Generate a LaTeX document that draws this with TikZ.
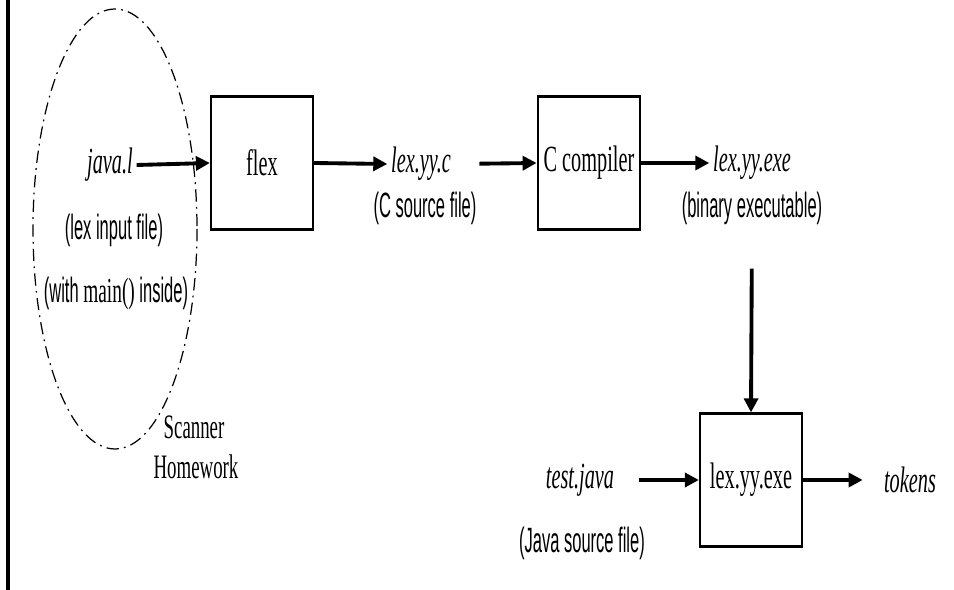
\documentclass[tikz,border=0pt]{standalone}
\usepackage{fontspec}
\usepackage{tikz}
\usetikzlibrary{arrows.meta,shapes.geometric}
\newfontfamily\boxfont[FakeStretch=0.55]{Liberation Serif}
\newfontfamily\notefont[FakeStretch=0.47]{Liberation Sans}
\tikzset{
	stage/.style={draw, line width=1.3pt, minimum width=2.04cm, minimum height=2.66cm, font=\boxfont\fontsize{21}{23}\selectfont},
	fname/.style={inner sep=2pt, font=\boxfont\itshape\fontsize{21}{23}\selectfont},
	fnote/.style={inner sep=1pt, font=\notefont\fontsize{20}{22}\selectfont},
	flow/.style={line width=2.2pt, -{Triangle[length=0.28cm, width=0.28cm]}}
}

\begin{document}
\begin{tikzpicture}[x=0.02cm, y=-0.02cm]
			%%%%% START %%%%%
			\useasboundingbox (0, 0) rectangle (954, 590);
			
			\draw[line width=1.8pt] (8, 0) -- (8, 590);
			
			\draw[line width=0.7pt, dash pattern=on 7pt off 3pt on 1pt off 3pt] (115, 229) ellipse (82 and 220);
			
			\node[fname] (javal) at (110, 165) {java.l};
			\node[fnote] (lexnote) at (114, 230) {(lex input file)};
			\node[fnote] (mainnote) at (116, 294) {(with {\boxfont main()} inside)};
			\node[font=\boxfont\fontsize{19.5}{21}\selectfont] (scanner) at (194, 427) {Scanner};
			\node[font=\boxfont\fontsize{19.5}{21}\selectfont] (homework) at (196, 467) {Homework};
			
			\node[stage] (flex) at (262, 163) {flex};
			\node[fname] (lexc) at (421, 164) {lex.yy.c};
			\node[fnote] (cnote) at (425, 208) {(C source file)};
			
			\node[stage] (cc) at (589, 163) {C compiler};
			\node[fname] (lexexe) at (752, 163) {lex.yy.exe};
			\node[fnote] (binnote) at (752, 208) {(binary executable)};
			
			\node[stage] (run) at (751, 480) {lex.yy.exe};
			\node[fname] (testjava) at (580, 480) {test.java};
			\node[fnote] (javanote) at (582, 543) {(Java source file)};
			\node[fname] (tokens) at (910, 480) {tokens};
			
			\draw[flow] (javal.east) -- (flex.west);
			\draw[flow] (flex.east) -- (lexc.west);
			\draw[flow, shorten <=14] (lexc.east) -- (cc.west);
			\draw[flow] (cc.east) -- (lexexe.west);
			\draw[flow, shorten <=24] (binnote.south) -- (run.north);
			\draw[flow, shorten <=12] (testjava.east) -- (run.west);
			\draw[flow, shorten >=10] (run.east) -- (tokens.west);
			
			%%%%% END %%%%%
\end{tikzpicture}
\end{document}
